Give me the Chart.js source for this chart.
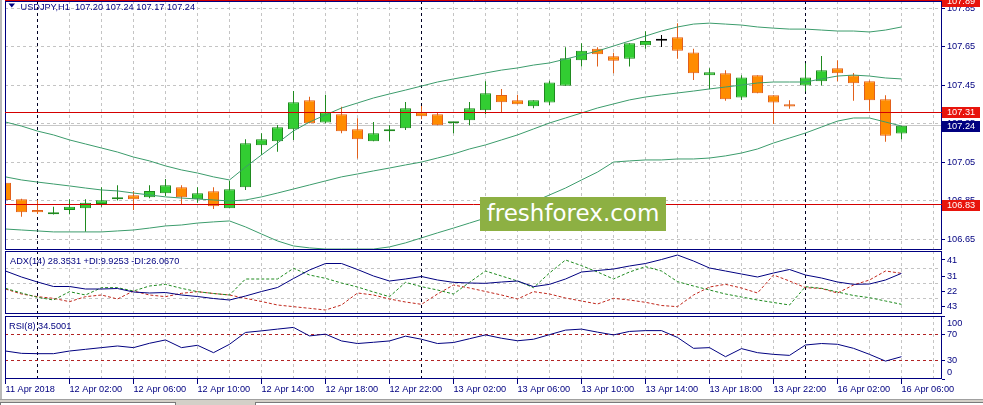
<!DOCTYPE html>
<html>
<head>
<meta charset="utf-8">
<script src="https://cdn.jsdelivr.net/npm/chart.js@4.4.1/dist/chart.umd.min.js"></script>
<style>
  html, body { margin: 0; padding: 0; background: #fff; }
  #wrap { position: relative; width: 983px; height: 405px; overflow: hidden; background: #fff; }
  canvas { position: absolute; left: 0; }
  #mainChart { top: 0; }
  #adxChart { top: 250px; }
  #rsiChart { top: 315px; }
  #edge { position: absolute; left: 0; top: 0; width: 2px; height: 400px; background: #b8b8b8; }
  #brand { position: absolute; left: 480px; top: 197px; width: 186px; height: 34px; background: #8db043;
           color: #fff; font: 23px "DejaVu Sans", sans-serif; line-height: 33px; text-align: center; }
  #tabs { position: absolute; left: 0; top: 399px; width: 983px; height: 6px; background: #d4d0c8; border-top: 1px solid #a0a0a0; }
  .tab { position: absolute; top: 2px; height: 6px; background: #fff; border: 1px solid #7a7a7a; }
</style>
</head>
<body>
<div id="wrap">
  <canvas id="mainChart" width="983" height="250"></canvas>
  <canvas id="adxChart" width="983" height="65"></canvas>
  <canvas id="rsiChart" width="983" height="85"></canvas>
  <div id="edge"></div>
  <div id="brand">freshforex.com</div>
  <div id="tabs"><div class="tab" style="left:0;width:174px"></div><div class="tab" style="left:255px;width:727px"></div></div>
</div>
<script>
const times = [
  "11 Apr 22:00", "11 Apr 23:00",
  "12 Apr 00:00", "12 Apr 01:00", "12 Apr 02:00", "12 Apr 03:00", "12 Apr 04:00", "12 Apr 05:00",
  "12 Apr 06:00", "12 Apr 07:00", "12 Apr 08:00", "12 Apr 09:00", "12 Apr 10:00", "12 Apr 11:00",
  "12 Apr 12:00", "12 Apr 13:00", "12 Apr 14:00", "12 Apr 15:00", "12 Apr 16:00", "12 Apr 17:00",
  "12 Apr 18:00", "12 Apr 19:00", "12 Apr 20:00", "12 Apr 21:00", "12 Apr 22:00", "12 Apr 23:00",
  "13 Apr 00:00", "13 Apr 01:00", "13 Apr 02:00", "13 Apr 03:00", "13 Apr 04:00", "13 Apr 05:00",
  "13 Apr 06:00", "13 Apr 07:00", "13 Apr 08:00", "13 Apr 09:00", "13 Apr 10:00", "13 Apr 11:00",
  "13 Apr 12:00", "13 Apr 13:00", "13 Apr 14:00", "13 Apr 15:00", "13 Apr 16:00", "13 Apr 17:00",
  "13 Apr 18:00", "13 Apr 19:00", "13 Apr 20:00", "13 Apr 21:00", "13 Apr 22:00", "13 Apr 23:00",
  "16 Apr 00:00", "16 Apr 01:00", "16 Apr 02:00", "16 Apr 03:00", "16 Apr 04:00", "16 Apr 05:00",
  "16 Apr 06:00"
];
const axisTicks = [0, 4, 8, 12, 16, 20, 24, 28, 32, 36, 40, 44, 48, 52, 56];
const axisLabels = ["11 Apr 2018", "12 Apr 02:00", "12 Apr 06:00", "12 Apr 10:00", "12 Apr 14:00",
  "12 Apr 18:00", "12 Apr 22:00", "13 Apr 02:00", "13 Apr 06:00", "13 Apr 10:00", "13 Apr 14:00",
  "13 Apr 18:00", "13 Apr 22:00", "16 Apr 02:00", "16 Apr 06:00"];

const open = [106.944, 106.858, 106.802, 106.780, 106.802, 106.811, 106.833, 106.858, 106.879, 106.868,
  106.889, 106.920, 106.858, 106.899, 106.811, 106.920, 107.138, 107.159, 107.221, 107.372,
  107.256, 107.299, 107.221, 107.159, 107.211, 107.227, 107.310, 107.299, 107.253, 107.268,
  107.320, 107.400, 107.372, 107.341, 107.360, 107.448, 107.580, 107.640, 107.601, 107.588,
  107.658, 107.682, 107.699, 107.621, 107.502, 107.512, 107.386, 107.502, 107.398, 107.351,
  107.449, 107.471, 107.538, 107.502, 107.471, 107.377, 107.200];
const high = [106.958, 106.860, 106.854, 106.819, 106.858, 106.858, 106.920, 106.931, 106.901, 106.931,
  106.963, 106.931, 106.920, 106.920, 106.954, 107.169, 107.201, 107.244, 107.420, 107.391,
  107.401, 107.339, 107.279, 107.259, 107.242, 107.363, 107.342, 107.308, 107.259, 107.363,
  107.471, 107.431, 107.401, 107.372, 107.474, 107.647, 107.668, 107.647, 107.619, 107.668,
  107.731, 107.711, 107.772, 107.640, 107.538, 107.528, 107.502, 107.502, 107.398, 107.372,
  107.564, 107.602, 107.580, 107.514, 107.475, 107.398, 107.240];
const low = [106.771, 106.767, 106.781, 106.778, 106.780, 106.689, 106.819, 106.851, 106.802, 106.863,
  106.875, 106.832, 106.840, 106.807, 106.811, 106.906, 107.088, 107.104, 107.166, 107.253,
  107.253, 107.201, 107.069, 107.159, 107.159, 107.218, 107.273, 107.242, 107.201, 107.242,
  107.299, 107.310, 107.351, 107.331, 107.348, 107.448, 107.547, 107.547, 107.512, 107.547,
  107.640, 107.649, 107.588, 107.478, 107.429, 107.370, 107.374, 107.408, 107.249, 107.328,
  107.418, 107.449, 107.471, 107.370, 107.318, 107.157, 107.170];
const close = [106.854, 106.790, 106.790, 106.790, 106.819, 106.840, 106.853, 106.868, 106.858, 106.901,
  106.931, 106.868, 106.889, 106.821, 106.910, 107.149, 107.169, 107.232, 107.362, 107.253,
  107.310, 107.211, 107.169, 107.201, 107.221, 107.331, 107.289, 107.242, 107.259, 107.331,
  107.408, 107.362, 107.351, 107.372, 107.464, 107.590, 107.630, 107.611, 107.578, 107.668,
  107.680, 107.682, 107.630, 107.512, 107.518, 107.377, 107.490, 107.408, 107.360, 107.340,
  107.491, 107.528, 107.512, 107.460, 107.372, 107.188, 107.240];

const bbUpper = [107.259, 107.238, 107.212, 107.192, 107.166, 107.145, 107.124, 107.103, 107.077, 107.057,
  107.031, 107.010, 106.994, 106.974, 106.958, 107.025, 107.088, 107.150, 107.213, 107.259,
  107.296, 107.332, 107.358, 107.384, 107.405, 107.425, 107.446, 107.467, 107.483, 107.498,
  107.514, 107.529, 107.540, 107.555, 107.566, 107.586, 107.607, 107.628, 107.654, 107.680,
  107.706, 107.732, 107.753, 107.768, 107.773, 107.768, 107.763, 107.753, 107.747, 107.742,
  107.742, 107.737, 107.732, 107.732, 107.727, 107.737, 107.753];
const bbMid = [106.974, 106.958, 106.947, 106.937, 106.927, 106.916, 106.906, 106.901, 106.890, 106.880,
  106.870, 106.864, 106.859, 106.854, 106.849, 106.854, 106.870, 106.890, 106.911, 106.932,
  106.953, 106.974, 106.989, 107.005, 107.020, 107.036, 107.051, 107.072, 107.093, 107.119,
  107.140, 107.166, 107.192, 107.223, 107.254, 107.280, 107.306, 107.332, 107.353, 107.374,
  107.389, 107.400, 107.410, 107.420, 107.431, 107.441, 107.451, 107.462, 107.467, 107.467,
  107.467, 107.483, 107.498, 107.503, 107.498, 107.488, 107.483];
const bbLower = [106.703, 106.698, 106.693, 106.688, 106.688, 106.688, 106.688, 106.693, 106.698, 106.708,
  106.719, 106.724, 106.734, 106.740, 106.745, 106.714, 106.677, 106.641, 106.615, 106.605,
  106.599, 106.599, 106.599, 106.599, 106.610, 106.631, 106.657, 106.683, 106.708, 106.734,
  106.760, 106.786, 106.812, 106.844, 106.880, 106.916, 106.958, 106.999, 107.051, 107.057,
  107.062, 107.062, 107.067, 107.067, 107.072, 107.083, 107.098, 107.119, 107.150, 107.176,
  107.202, 107.233, 107.264, 107.280, 107.280, 107.259, 107.238];

const adx = [34.4, 30.8, 27.8, 25.1, 25.1, 23.6, 23.6, 23.9, 21.8, 21.2,
  21.5, 20.0, 19.1, 17.9, 17.0, 19.4, 22.1, 24.5, 29.9, 35.0,
  38.9, 38.9, 35.3, 31.4, 28.4, 29.6, 31.1, 29.0, 27.6, 27.2,
  27.0, 27.8, 28.4, 25.0, 26.4, 29.6, 33.8, 34.7, 35.6, 37.4,
  38.9, 41.3, 44.0, 40.4, 36.2, 34.4, 32.6, 30.8, 33.2, 35.3,
  32.0, 30.2, 27.8, 26.4, 26.6, 29.0, 33.0];
const plusDi = [24.0, 21.2, 18.6, 17.0, 22.0, 20.0, 24.4, 24.4, 22.4, 25.4,
  26.4, 24.0, 22.0, 20.9, 20.0, 29.6, 29.6, 29.6, 36.0, 32.0,
  30.0, 27.2, 24.8, 21.8, 19.0, 27.6, 25.0, 23.0, 20.6, 27.6,
  34.4, 31.4, 28.4, 24.4, 33.2, 41.0, 37.6, 33.8, 29.6, 33.8,
  37.0, 34.4, 28.0, 25.4, 23.0, 20.6, 18.8, 17.0, 15.5, 14.0,
  25.0, 24.0, 21.8, 19.7, 18.4, 16.4, 14.4];
const minusDi = [23.6, 20.6, 19.0, 18.0, 16.0, 19.0, 20.0, 17.6, 22.4, 20.0,
  19.0, 21.0, 22.0, 20.9, 20.0, 18.0, 16.1, 14.0, 13.0, 12.0,
  11.0, 14.0, 21.2, 20.0, 17.6, 15.8, 14.4, 20.6, 26.0, 24.2,
  22.1, 20.0, 17.6, 22.0, 20.6, 18.2, 16.4, 14.6, 18.0, 17.0,
  15.6, 13.7, 13.0, 20.0, 24.8, 26.4, 24.2, 21.2, 32.0, 28.4,
  24.4, 23.9, 21.2, 26.0, 29.0, 34.4, 33.0];
const rsi = [44.4, 40.7, 40.2, 40.2, 44.4, 47.1, 49.8, 52.4, 49.8, 56.7,
  62.0, 49.8, 53.5, 41.8, 55.1, 73.9, 76.4, 79.2, 81.9, 68.4,
  71.2, 60.4, 56.3, 58.3, 60.4, 68.0, 63.1, 56.3, 57.9, 63.9,
  70.0, 64.7, 60.7, 63.1, 70.4, 77.6, 79.2, 74.4, 70.0, 75.5,
  76.8, 76.8, 65.9, 48.7, 49.8, 35.4, 48.2, 41.8, 39.1, 37.5,
  54.0, 56.3, 55.1, 48.7, 39.1, 28.4, 35.4];

const priceTicks = [107.85, 107.65, 107.45, 107.25, 107.05, 106.85, 106.65];
const redLevels = [107.89, 107.31, 106.83];
const bidLevel = 107.24;
const adxTicks = [41, 31, 22, 13];
const adxTickLabels = ["41", "31", "22", "43"];
const adxGrid = [36, 27, 18];
const rsiTicks = [100, 70, 30, 0];
const rsiLevels = [70, 30];

const NAVY = "#000080";
const GRID = "#c4c4c4";
const BAND = "#3c9c6c";
const FAMILY = '"Liberation Sans", Arial, sans-serif';
const FS = 9.2;
const dayStarts = times.map((t, i) => (t.endsWith("00:00") ? i : -1)).filter(i => i >= 0);

function pts(arr) {
  return arr.map((v, i) => ({ x: i, y: v }));
}

function kind(i) {
  if (close[i] > open[i]) return "up";
  if (close[i] < open[i]) return "down";
  return "flat";
}
const bodyFill = { up: "#32cd32", down: "#ff8c00", flat: "#000" };
const bodyEdge = { up: "#1f8a1f", down: "#e2601a", flat: "#000" };

function xScale(show) {
  return {
    type: "linear", min: -0.03125, max: 58.53125, offset: false, display: show, bounds: "data",
    afterBuildTicks: s => { s.ticks = axisTicks.map(v => ({ value: v })); },
    afterFit: s => { if (show) { s.height = 21; } s.paddingLeft = 0; s.paddingRight = 0; },
    ticks: {
      autoSkip: false, maxRotation: 0, minRotation: 0, align: "start", padding: 0, color: NAVY,
      font: { family: FAMILY, size: FS }, callback: (v, i) => axisLabels[i]
    },
    grid: { display: true, drawOnChartArea: false, drawTicks: true, tickLength: 5, color: NAVY },
    border: { display: false }
  };
}

function yScale(min, max, ticks, labelFn) {
  return {
    position: "right", min, max, bounds: "data",
    afterBuildTicks: s => { s.ticks = ticks.map(v => ({ value: v })); },
    afterFit: s => { s.width = 41; s.paddingTop = 0; s.paddingBottom = 0; },
    ticks: { padding: 2, color: NAVY, font: { family: FAMILY, size: FS }, callback: labelFn },
    grid: { display: true, drawOnChartArea: false, drawTicks: true, tickLength: 3, color: NAVY },
    border: { display: false }
  };
}

function hline(ctx, a, py) {
  const y = Math.round(py - 0.5) + 0.5;
  ctx.moveTo(a.left, y);
  ctx.lineTo(a.right, y);
}

function panelPlugin(hGrid, extra) {
  return {
    id: "panel",
    beforeDatasetsDraw(chart) {
      const { ctx, chartArea: a, scales: { x, y } } = chart;
      ctx.save();
      ctx.lineWidth = 1;
      ctx.setLineDash([3, 3]);
      ctx.strokeStyle = GRID;
      ctx.beginPath();
      for (let i = 2; i <= 58; i += 2) {
        if (dayStarts.includes(i)) continue;
        const px = Math.round(x.getPixelForValue(i) - 0.5) + 0.5;
        ctx.moveTo(px, a.top);
        ctx.lineTo(px, a.bottom);
      }
      hGrid.forEach(v => hline(ctx, a, y.getPixelForValue(v)));
      ctx.stroke();
      ctx.strokeStyle = "#000022";
      ctx.beginPath();
      dayStarts.forEach(i => {
        const px = Math.round(x.getPixelForValue(i) - 0.5) + 0.5;
        ctx.moveTo(px, a.top);
        ctx.lineTo(px, a.bottom);
      });
      ctx.stroke();
      ctx.restore();
      if (extra.under) extra.under(chart);
    },
    afterDatasetsDraw(chart) {
      const { ctx, chartArea: a } = chart;
      ctx.save();
      ctx.strokeStyle = NAVY;
      ctx.lineWidth = 1;
      ctx.strokeRect(a.left + 0.5, a.top + 0.5, a.right - a.left - 1, a.bottom - a.top - 1);
      ctx.restore();
      if (extra.over) extra.over(chart);
    }
  };
}

function priceBox(ctx, py, text, bg) {
  ctx.fillStyle = bg;
  ctx.fillRect(942, Math.round(py) - 5, 38, 11);
  ctx.fillStyle = "#fff";
  ctx.font = `${FS}px ${FAMILY}`;
  ctx.textBaseline = "middle";
  ctx.textAlign = "left";
  ctx.fillText(text, 947, Math.round(py) + 0.5);
}

function title(ctx, text, x, y) {
  ctx.fillStyle = NAVY;
  ctx.font = `${FS}px ${FAMILY}`;
  ctx.textBaseline = "alphabetic";
  ctx.textAlign = "left";
  ctx.fillText(text, x, y);
}

const baseOptions = {
  responsive: false,
  animation: false,
  devicePixelRatio: 1,
  events: [],
  plugins: { legend: { display: false }, tooltip: { enabled: false } }
};

function lineSet(data, color, dash) {
  return {
    type: "line", data: pts(data), borderColor: color, borderWidth: 1, borderDash: dash || [],
    pointRadius: 0, tension: 0, clip: 0, order: 0
  };
}

// price panel: candles + bollinger bands
new Chart(document.getElementById("mainChart"), {
  type: "bar",
  data: {
    datasets: [
      lineSet(bbUpper, BAND),
      lineSet(bbMid, BAND),
      lineSet(bbLower, BAND),
      {
        type: "bar", data: times.map((t, i) => ({ x: i, y: [open[i], close[i]] })),
        backgroundColor: c => bodyFill[kind(c.dataIndex)], borderColor: c => bodyEdge[kind(c.dataIndex)],
        borderWidth: 1, borderSkipped: false, barThickness: 11, minBarLength: 2, grouped: false,
        inflateAmount: 0, clip: 0, order: 1
      },
      {
        type: "bar", data: times.map((t, i) => ({ x: i, y: [low[i], high[i]] })),
        backgroundColor: c => bodyEdge[kind(c.dataIndex)], borderWidth: 0, barThickness: 1,
        grouped: false, inflateAmount: 0, clip: 0, order: 2
      }
    ]
  },
  options: {
    ...baseOptions,
    layout: { padding: { left: 5, top: 1, right: 0, bottom: 0 } },
    scales: {
      x: xScale(false),
      y: yScale(106.594, 107.888, priceTicks, v => v.toFixed(2))
    }
  },
  plugins: [panelPlugin(priceTicks, {
    under(chart) {
      const { ctx, chartArea: a, scales: { y } } = chart;
      ctx.save();
      ctx.strokeStyle = "#c8c8c8";
      ctx.beginPath();
      hline(ctx, a, y.getPixelForValue(bidLevel));
      ctx.stroke();
      ctx.restore();
    },
    over(chart) {
      const { ctx, chartArea: a, scales: { y } } = chart;
      ctx.save();
      ctx.strokeStyle = "#d40000";
      ctx.lineWidth = 1;
      ctx.beginPath();
      redLevels.forEach(v => hline(ctx, a, y.getPixelForValue(v)));
      ctx.stroke();
      redLevels.forEach(v => priceBox(ctx, y.getPixelForValue(v), v.toFixed(2), "#e8140c"));
      priceBox(ctx, y.getPixelForValue(bidLevel), bidLevel.toFixed(2), NAVY);
      ctx.fillStyle = NAVY;
      ctx.beginPath();
      ctx.moveTo(8.5, 3.5);
      ctx.lineTo(15, 3.5);
      ctx.lineTo(11.75, 7.5);
      ctx.closePath();
      ctx.fill();
      const n = close.length - 1;
      title(ctx, `USDJPY,H1  ${open[n].toFixed(2)} ${high[n].toFixed(2)} ${low[n].toFixed(2)} ${close[n].toFixed(2)}`, 20.5, 9.5);
      ctx.restore();
    }
  })]
});

// ADX panel
new Chart(document.getElementById("adxChart"), {
  type: "line",
  data: {
    datasets: [
      lineSet(adx, NAVY),
      lineSet(plusDi, "#1e8a1e", [3, 2]),
      lineSet(minusDi, "#c0281c", [3, 2])
    ]
  },
  options: {
    ...baseOptions,
    layout: { padding: { left: 5, top: 1, right: 0, bottom: 1 } },
    scales: {
      x: xScale(false),
      y: yScale(8.6, 46.4, adxTicks, (v, i) => adxTickLabels[i])
    }
  },
  plugins: [panelPlugin(adxGrid, {
    over(chart) {
      title(chart.ctx, "ADX(14) 28.3531 +DI:9.9253 -DI:26.0670", 10, 14);
    }
  })]
});

// RSI panel with the time axis
new Chart(document.getElementById("rsiChart"), {
  type: "line",
  data: { datasets: [lineSet(rsi, NAVY)] },
  options: {
    ...baseOptions,
    layout: { padding: { left: 5, top: 1, right: 0, bottom: 0 } },
    scales: {
      x: xScale(true),
      y: yScale(0, 100, rsiTicks, () => "")
    }
  },
  plugins: [panelPlugin([], {
    under(chart) {
      const { ctx, chartArea: a, scales: { y } } = chart;
      ctx.save();
      ctx.strokeStyle = "#b22222";
      ctx.setLineDash([3, 3]);
      ctx.beginPath();
      rsiLevels.forEach(v => hline(ctx, a, y.getPixelForValue(v)));
      ctx.stroke();
      ctx.restore();
    },
    over(chart) {
      const { ctx, chartArea: a, scales: { y } } = chart;
      ctx.save();
      ctx.fillStyle = NAVY;
      ctx.font = `${FS}px ${FAMILY}`;
      ctx.textBaseline = "middle";
      ctx.textAlign = "left";
      rsiTicks.forEach(v => {
        const py = Math.min(Math.max(y.getPixelForValue(v), a.top + 7.5), a.bottom - 6.5);
        ctx.fillText(String(v), 947, py);
      });
      ctx.restore();
      title(ctx, "RSI(8) 34.5001", 9, 14);
    }
  })]
});
</script>
</body>
</html>
